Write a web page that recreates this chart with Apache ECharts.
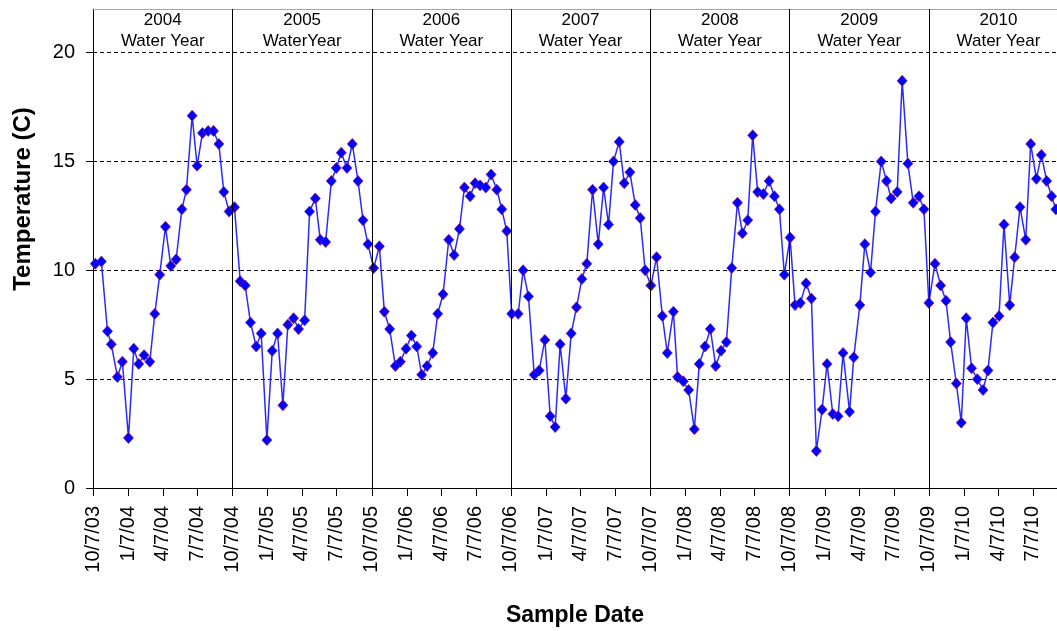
<!DOCTYPE html>
<html>
<head>
<meta charset="utf-8">
<title>Water Temperature</title>
<script src="https://cdn.jsdelivr.net/npm/echarts@6/dist/echarts.min.js"></script>
<style>
  html, body { margin: 0; padding: 0; background: #fff; }
  #chart { width: 1057px; height: 631px; }
</style>
</head>
<body>
<div id="chart"></div>
<script>
// days after the first tick date (10/7/03) for every sample
const sampleDays = [
  6, 22, 38, 48, 64, 77, 93, 107, 120, 134, 149, 162, 175, 190, 204, 218, 233, 245, 260, 273, 287, 302, 316, 330, 343, 357, 371,
  386, 399, 413, 428, 441, 456, 470, 484, 498, 511, 526, 539, 555, 568, 583, 596, 610, 625, 638, 651, 666, 680, 695, 708, 721, 736,
  751, 764, 778, 793, 806, 821, 835, 849, 862, 876, 891, 904, 918, 933, 947, 961, 974, 989, 1002, 1015, 1030, 1044, 1059, 1072, 1085, 1098,
  1115, 1128, 1142, 1157, 1170, 1185, 1199, 1212, 1225, 1240, 1254, 1268, 1282, 1295, 1310, 1325, 1339, 1352, 1365, 1380, 1393, 1408, 1422, 1435, 1448, 1463,
  1478, 1493, 1506, 1522, 1533, 1548, 1562, 1577, 1590, 1605, 1619, 1633, 1647, 1661, 1675, 1690, 1703, 1717, 1730, 1743, 1758, 1773, 1787, 1800, 1813, 1828,
  1841, 1855, 1870, 1884, 1897, 1912, 1925, 1940, 1954, 1967, 1984, 1995, 2011, 2024, 2039, 2052, 2067, 2081, 2093, 2109, 2122, 2137, 2151, 2166, 2179, 2192,
  2208, 2223, 2237, 2249, 2264, 2277, 2290, 2304, 2319, 2334, 2347, 2360, 2376, 2389, 2404, 2417, 2431, 2446, 2459, 2474, 2487, 2501, 2514, 2525
];

const temperatures = [
  10.3, 10.4, 7.2, 6.6, 5.1, 5.8, 2.3, 6.4, 5.7, 6.1, 5.8, 8.0, 9.8, 12.0, 10.2, 10.5, 12.8, 13.7, 17.1, 14.8, 16.3, 16.4, 16.4, 15.8, 13.6, 12.7, 12.9,
  9.5, 9.3, 7.6, 6.5, 7.1, 2.2, 6.3, 7.1, 3.8, 7.5, 7.8, 7.3, 7.7, 12.7, 13.3, 11.4, 11.3, 14.1, 14.7, 15.4, 14.7, 15.8, 14.1, 12.3, 11.2, 10.1,
  11.1, 8.1, 7.3, 5.6, 5.8, 6.4, 7.0, 6.5, 5.2, 5.6, 6.2, 8.0, 8.9, 11.4, 10.7, 11.9, 13.8, 13.4, 14.0, 13.9, 13.8, 14.4, 13.7, 12.8, 11.8, 8.0,
  8.0, 10.0, 8.8, 5.2, 5.4, 6.8, 3.3, 2.8, 6.6, 4.1, 7.1, 8.3, 9.6, 10.3, 13.7, 11.2, 13.8, 12.1, 15.0, 15.9, 14.0, 14.5, 13.0, 12.4, 10.0, 9.3,
  10.6, 7.9, 6.2, 8.1, 5.1, 4.9, 4.5, 2.7, 5.7, 6.5, 7.3, 5.6, 6.3, 6.7, 10.1, 13.1, 11.7, 12.3, 16.2, 13.6, 13.5, 14.1, 13.4, 12.8, 9.8, 11.5,
  8.4, 8.5, 9.4, 8.7, 1.7, 3.6, 5.7, 3.4, 3.3, 6.2, 3.5, 6.0, 8.4, 11.2, 9.9, 12.7, 15.0, 14.1, 13.3, 13.6, 18.7, 14.9, 13.1, 13.4, 12.8, 8.5,
  10.3, 9.3, 8.6, 6.7, 4.8, 3.0, 7.8, 5.5, 5.0, 4.5, 5.4, 7.6, 7.9, 12.1, 8.4, 10.6, 12.9, 11.4, 15.8, 14.2, 15.3, 14.1, 13.4, 12.8
];

const tickLabels = [
  '10/7/03', '1/7/04', '4/7/04', '7/7/04', '10/7/04', '1/7/05', '4/7/05', '7/7/05',
  '10/7/05', '1/7/06', '4/7/06', '7/7/06', '10/7/06', '1/7/07', '4/7/07', '7/7/07',
  '10/7/07', '1/7/08', '4/7/08', '7/7/08', '10/7/08', '1/7/09', '4/7/09', '7/7/09',
  '10/7/09', '1/7/10', '4/7/10', '7/7/10'
];

const yearBounds = ['10/7/03', '10/7/04', '10/7/05', '10/7/06', '10/7/07', '10/7/08', '10/7/09', '10/7/10'];
const waterYears = ['2004\nWater Year', '2005\nWaterYear', '2006\nWater Year', '2007\nWater Year',
  '2008\nWater Year', '2009\nWater Year', '2010\nWater Year'];

const yTicks = [0, 5, 10, 15, 20];

const FONT = '"Liberation Sans", Arial, sans-serif';
const DAY = 86400000;

function parseDate(s) {
  const p = s.split('/').map(Number);
  return Date.UTC(2000 + p[2], p[0] - 1, p[1]);
}

function fmtDate(v) {
  const d = new Date(v);
  const yy = String(d.getUTCFullYear() % 100).padStart(2, '0');
  return (d.getUTCMonth() + 1) + '/' + d.getUTCDate() + '/' + yy;
}

const t0 = parseDate(tickLabels[0]);
const xMax = Date.UTC(2010, 8, 8);
const tickValues = tickLabels.map(parseDate);
const boundValues = yearBounds.map(parseDate);

const seriesData = sampleDays.map((d, i) => [t0 + d * DAY, temperatures[i]]);
const yearLabelData = waterYears.map((name, i) => ({
  name: name,
  value: [(boundValues[i] + boundValues[i + 1]) / 2, 22]
}));

const chart = echarts.init(document.getElementById('chart'));

chart.setOption({
  animation: false,
  textStyle: { fontFamily: FONT },
  grid: { left: 93, right: 0, top: 9, bottom: 143, containLabel: false, outerBoundsMode: 'none' },
  xAxis: [
    {
      type: 'value',
      min: t0,
      max: xMax,
      name: 'Sample Date',
      nameLocation: 'middle',
      nameGap: 116,
      nameTextStyle: { fontSize: 23, fontWeight: 'bold', color: '#000', fontFamily: FONT },
      axisLine: { show: true, lineStyle: { color: '#000', width: 1 } },
      axisTick: { show: true, length: 8, lineStyle: { color: '#000' }, customValues: tickValues },
      axisLabel: {
        customValues: tickValues,
        rotate: 90,
        margin: 18,
        fontSize: 20,
        color: '#000',
        fontFamily: FONT,
        formatter: fmtDate
      },
      splitLine: { show: false }
    },
    {
      type: 'value',
      position: 'top',
      min: t0,
      max: xMax,
      axisLine: { show: true, lineStyle: { color: '#a6a6a6', width: 1 } },
      axisTick: { show: false },
      axisLabel: { show: false },
      splitLine: { show: false }
    }
  ],
  yAxis: {
    type: 'value',
    min: 0,
    max: 22,
    axisLine: { show: true, lineStyle: { color: '#000', width: 1 } },
    axisTick: { show: true, length: 7, lineStyle: { color: '#000' }, customValues: yTicks },
    axisLabel: { customValues: yTicks, fontSize: 20, margin: 18, color: '#000', fontFamily: FONT },
    splitLine: { show: true, lineStyle: { color: '#000', type: [4, 3], width: 1 } }
  },
  graphic: [
    {
      type: 'text',
      x: 23,
      y: 199,
      rotation: Math.PI / 2,
      style: {
        text: 'Temperature (C)',
        font: 'bold 24px ' + FONT,
        fill: '#000',
        align: 'center',
        verticalAlign: 'middle'
      }
    }
  ],
  series: [
    {
      name: 'Temperature',
      type: 'line',
      data: seriesData,
      symbol: 'diamond',
      symbolSize: [10, 11],
      lineStyle: { color: '#2a2aff', width: 1.5 },
      itemStyle: { color: '#0000ff', borderColor: '#8a1a8a', borderWidth: 0.8 },
      markLine: {
        silent: true,
        symbol: 'none',
        label: { show: false },
        lineStyle: { color: '#000', type: 'solid', width: 1 },
        data: boundValues.slice(1, 7).map(v => ({ xAxis: v }))
      }
    },
    {
      name: 'Water Year',
      type: 'scatter',
      data: yearLabelData,
      symbolSize: 0,
      silent: true,
      itemStyle: { color: '#000', opacity: 1 },
      label: {
        show: true,
        position: 'bottom',
        distance: 1,
        formatter: p => p.name,
        fontSize: 17,
        lineHeight: 21,
        color: '#000',
        opacity: 1,
        fontFamily: FONT,
        align: 'center'
      }
    }
  ]
});
</script>
</body>
</html>
